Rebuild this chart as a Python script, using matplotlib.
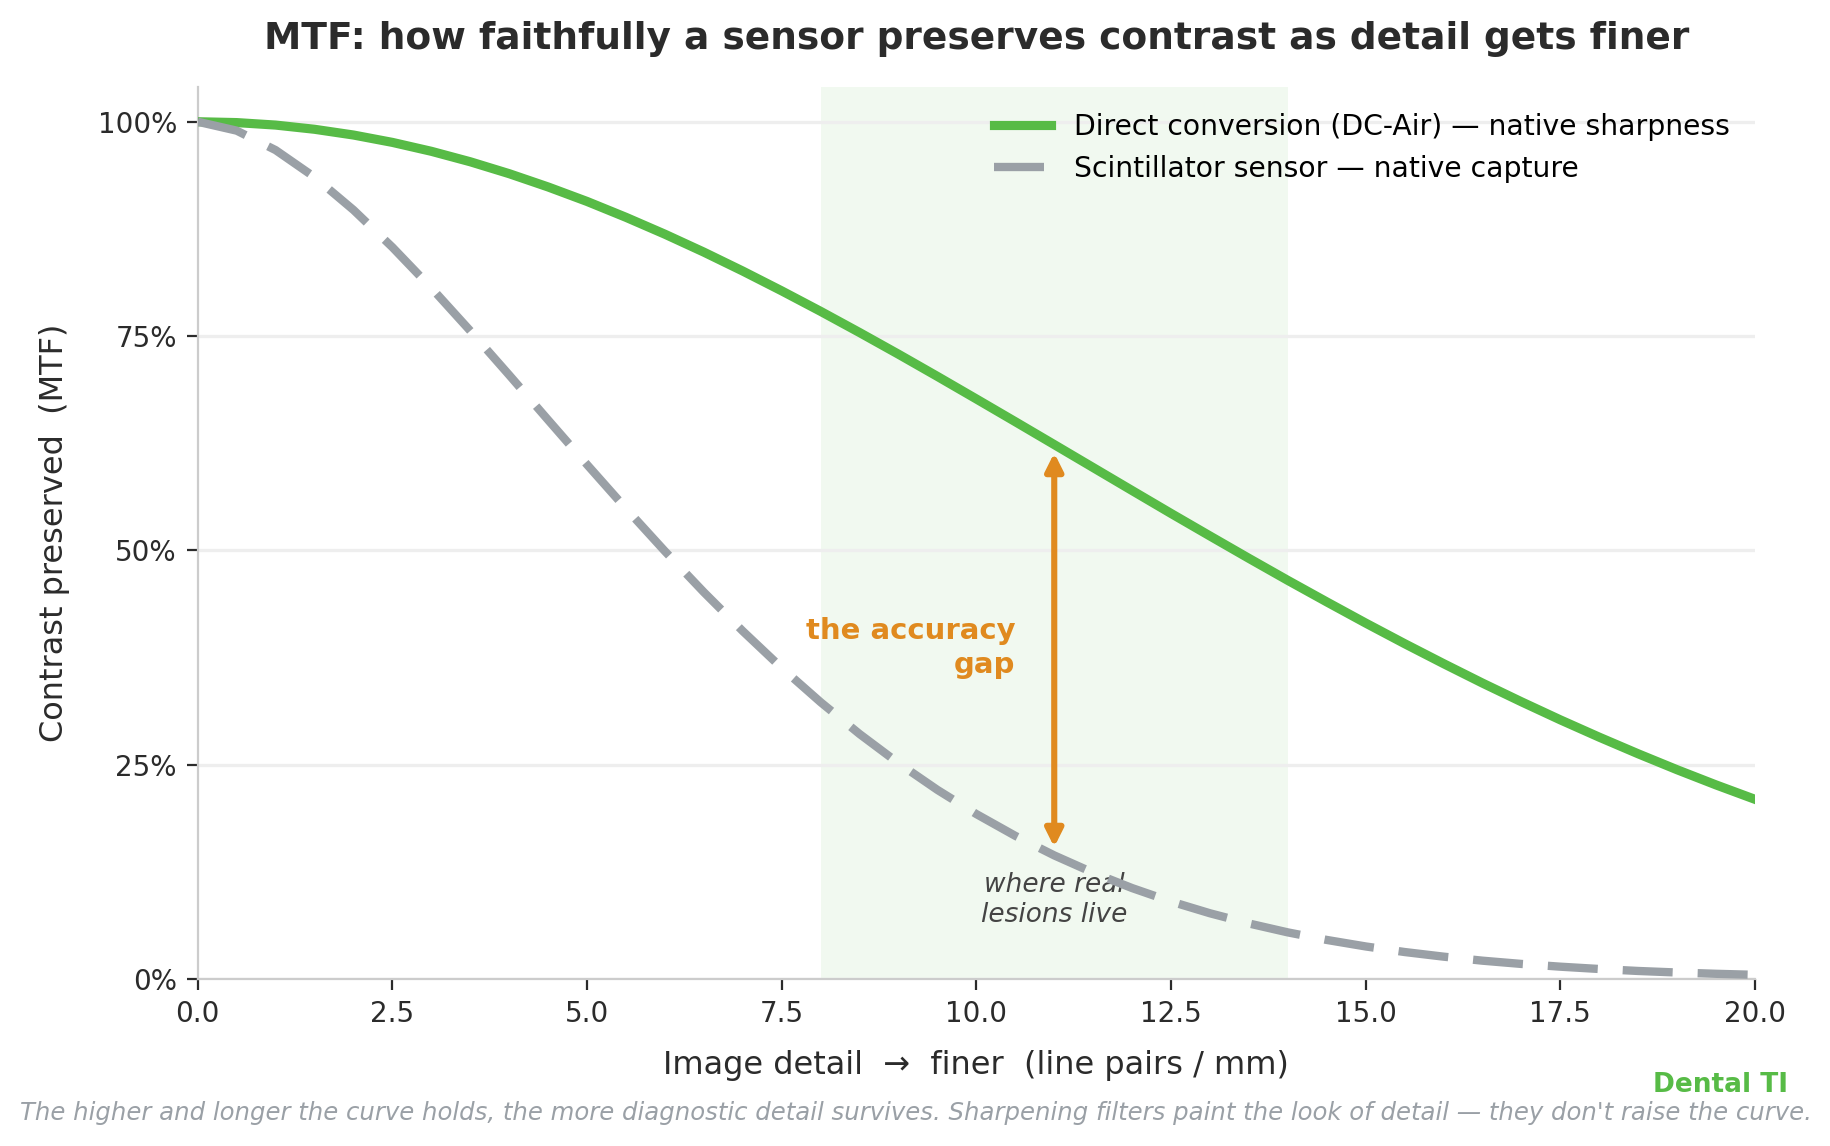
import matplotlib
matplotlib.use('Agg')
import matplotlib.pyplot as plt
from matplotlib.ticker import PercentFormatter

# Spatial frequency samples (line pairs / mm)
freq = [0.0, 0.5, 1.0, 1.5, 2.0, 2.5, 3.0, 3.5, 4.0, 4.5,
        5.0, 5.5, 6.0, 6.5, 7.0, 7.5, 8.0, 8.5, 9.0, 9.5,
        10.0, 10.5, 11.0, 11.5, 12.0, 12.5, 13.0, 13.5, 14.0, 14.5,
        15.0, 15.5, 16.0, 16.5, 17.0, 17.5, 18.0, 18.5, 19.0, 19.5, 20.0]

# MTF
mtf_direct = [1.0000, 0.9990, 0.9961, 0.9912, 0.9845, 0.9759, 0.9655, 0.9533, 0.9394, 0.9239,
              0.9070, 0.8885, 0.8688, 0.8479, 0.8258, 0.8027, 0.7788, 0.7541, 0.7288, 0.7029,
              0.6766, 0.6501, 0.6234, 0.5966, 0.5698, 0.5431, 0.5168, 0.4907, 0.4650, 0.4399,
              0.4152, 0.3912, 0.3679, 0.3452, 0.3234, 0.3023, 0.2821, 0.2627, 0.2441, 0.2264, 0.2096]

mtf_scint = [1.0000, 0.9896, 0.9669, 0.9354, 0.8971, 0.8536, 0.8062, 0.7561, 0.7045, 0.6521,
             0.6000, 0.5488, 0.4990, 0.4512, 0.4058, 0.3629, 0.3229, 0.2858, 0.2518, 0.2206,
             0.1924, 0.1670, 0.1442, 0.1240, 0.1061, 0.0904, 0.0767, 0.0648, 0.0544, 0.0456,
             0.0380, 0.0315, 0.0261, 0.0214, 0.0176, 0.0144, 0.0117, 0.0094, 0.0076, 0.0061, 0.0049]

yticks = [0, 0.25, 0.5, 0.75, 1.0]
lesion_band = (8, 14)
gap_at = 11.0

GREEN = '#57BB46'
GRAY = '#9AA0A6'
ORANGE = '#E08A1F'
DARK = '#2B2B2B'

fig = plt.figure(figsize=(9.155, 5.73), dpi=200)
ax = fig.add_axes([0.108, 0.1457, 0.8505, 0.778])

ax.axvspan(lesion_band[0], lesion_band[1], color=GREEN, alpha=0.08, lw=0, zorder=0)

ax.plot(freq, mtf_direct, color=GREEN, lw=3.3, solid_joinstyle='round',
        label='Direct conversion (DC-Air) — native sharpness', zorder=3)
ax.plot(freq, mtf_scint, color=GRAY, lw=3, linestyle=(0, (6, 3)), dash_joinstyle='round',
        label='Scintillator sensor — native capture', zorder=3)

# accuracy gap arrow
i = freq.index(gap_at)
ax.annotate('', xy=(gap_at, mtf_direct[i]), xytext=(gap_at, mtf_scint[i]),
            arrowprops=dict(arrowstyle='<|-|>', color=ORANGE, lw=2.2, mutation_scale=13,
                            shrinkA=3, shrinkB=3), zorder=4)
ax.text(gap_at - 0.5, 0.386, 'the accuracy\ngap', color=ORANGE, fontsize=10.5, fontweight='bold',
        ha='right', va='center', linespacing=1.25)
ax.text(gap_at, 0.092, 'where real\nlesions live', color='#444444', fontsize=9.5, style='italic',
        ha='center', va='center', linespacing=1.2, zorder=2)

ax.set_xlim(0, 20)
ax.set_ylim(0, 1.04)
ax.set_yticks(yticks)
ax.yaxis.set_major_formatter(PercentFormatter(1.0, decimals=0))
ax.grid(axis='y', color='#EEEEEE', lw=1.2)
ax.set_axisbelow(True)
for s in ['top', 'right']:
    ax.spines[s].set_visible(False)
for s in ['left', 'bottom']:
    ax.spines[s].set_color('#CCCCCC')
ax.tick_params(labelsize=10, colors=DARK, length=4)

ax.set_xlabel('Image detail  →  finer  (line pairs / mm)', fontsize=11.5, color=DARK, labelpad=8)
ax.set_ylabel('Contrast preserved  (MTF)', fontsize=11.5, color=DARK, labelpad=10)
ax.set_title('MTF: how faithfully a sensor preserves contrast as detail gets finer',
             fontsize=13.5, fontweight='bold', color=DARK, pad=14)

ax.legend(loc='upper right', frameon=False, fontsize=10.2)

fig.text(0.9765, 0.0532, 'Dental TI', color=GREEN, fontsize=9.5, fontweight='bold', ha='right', va='center')
fig.text(0.5, 0.0290, "The higher and longer the curve holds, the more diagnostic detail survives. "
         "Sharpening filters paint the look of detail — they don't raise the curve.",
         color=GRAY, fontsize=8.8, style='italic', ha='center', va='center')

fig.savefig('out.png', dpi=200)
